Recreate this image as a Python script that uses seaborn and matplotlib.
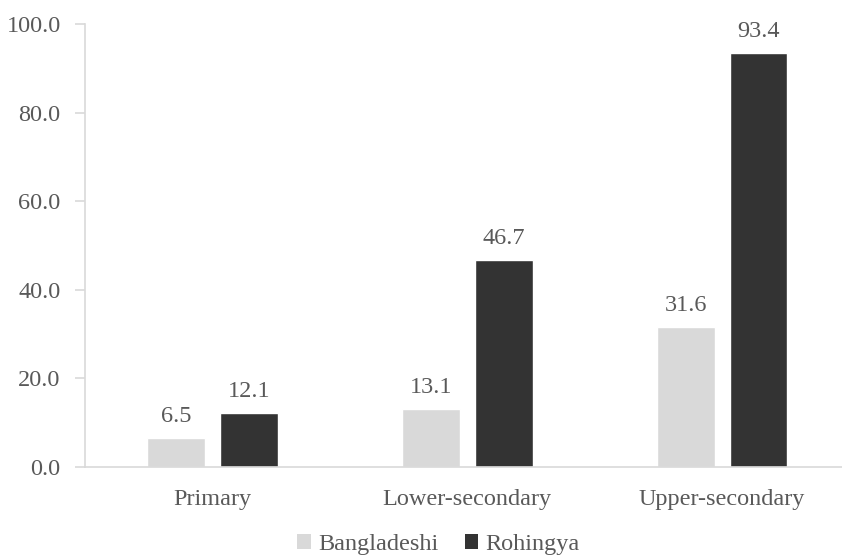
import matplotlib
matplotlib.use("Agg")
import matplotlib.pyplot as plt
import seaborn as sns
import pandas as pd
from matplotlib.patches import Patch

categories = ["Primary", "Lower-secondary", "Upper-secondary"]
series = ["Bangladeshi", "Rohingya"]
bangladeshi = [6.5, 13.1, 31.6]
rohingya = [12.1, 46.7, 93.4]
yticks = [0, 20, 40, 60, 80, 100]

colors = {"Bangladeshi": "#d9d9d9", "Rohingya": "#333333"}
text_color = "#595959"
spine_color = "#d9d9d9"
FS = 17.5

df = pd.DataFrame({
    "Level": categories * 2,
    "Group": ["Bangladeshi"] * 3 + ["Rohingya"] * 3,
    "Value": bangladeshi + rohingya,
})

sns.set_theme(style="white")
plt.rcParams["font.family"] = ["Liberation Serif", "DejaVu Serif"]

fig = plt.figure(figsize=(8.42, 5.57), dpi=100)
ax = fig.add_axes([85 / 842, 1 - 467 / 557, 1 - 85 / 842, (467 - 24) / 557])

sns.barplot(data=df, x="Level", y="Value", hue="Group", order=categories,
            hue_order=series, palette=colors, width=0.572, gap=0.21,
            saturation=1, legend=False, ax=ax)

for cont in ax.containers:
    ax.bar_label(cont, fmt="%.1f", padding=8, fontsize=FS, color=text_color)

ax.set_ylim(0, 100)
ax.set_xlim(-0.5, 2.47)
ax.set_yticks(yticks)
ax.set_yticklabels([f"{v:.1f}" for v in yticks])
ax.set_xlabel("")
ax.set_ylabel("")
for s in ["top", "right"]:
    ax.spines[s].set_visible(False)
for s in ["left", "bottom"]:
    ax.spines[s].set_color(spine_color)
    ax.spines[s].set_linewidth(1.2)
ax.tick_params(axis="y", which="major", left=True, length=7, width=1.2,
               color=spine_color, labelsize=FS, labelcolor=text_color, pad=10.5)
ax.tick_params(axis="x", bottom=False, labelsize=FS, labelcolor=text_color, pad=10)

handles = [Patch(facecolor=colors[s], edgecolor="none", label=s) for s in series]
leg = fig.legend(handles=handles, loc="center", bbox_to_anchor=(0.521, 0.022),
                 ncol=2, frameon=False, fontsize=FS, handlelength=0.55,
                 handleheight=0.55, handletextpad=0.3, columnspacing=1.1)
for t in leg.get_texts():
    t.set_color(text_color)

fig.savefig("out.png", dpi=100)
